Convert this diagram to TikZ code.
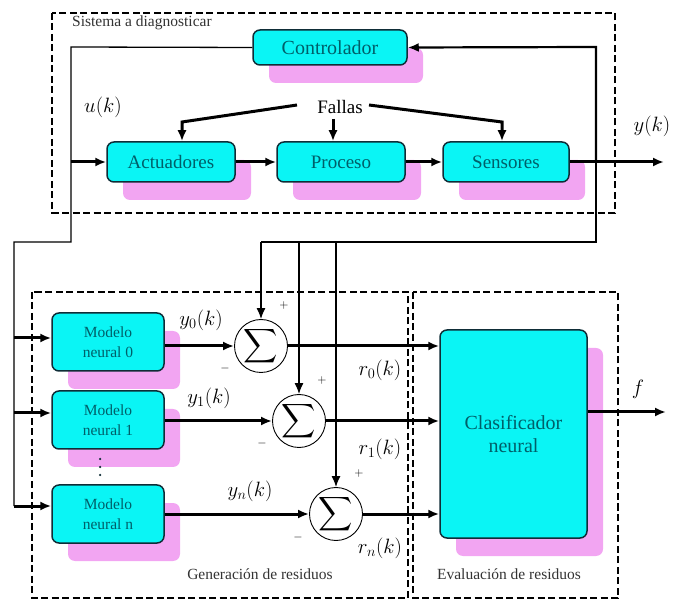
\documentclass[tikz,border=0pt]{standalone}
\usepackage{fontspec}
\usepackage{graphicx}
\setmainfont{Liberation Serif}
\usetikzlibrary{arrows.meta,shadows,calc}
\definecolor{boxfill}{RGB}{10,245,245}
\definecolor{boxline}{RGB}{15,45,55}
\definecolor{boxtext}{RGB}{0,95,105}
\definecolor{shpink}{RGB}{242,165,242}
\newcommand{\sumsym}{\resizebox{!}{25pt}{$\displaystyle\sum$}}
\begin{document}
\begin{tikzpicture}[x=1pt,y=-1pt,
  blk/.style={draw=boxline,fill=boxfill,line width=1.5pt,rounded corners=7pt,
    text=boxtext,inner sep=0pt,align=center,
    drop shadow={shadow xshift=16pt,shadow yshift=-18pt,fill=shpink,opacity=1}},
  bigblk/.style={blk,font=\fontsize{19}{20}\selectfont,minimum width=128pt,minimum height=40pt},
  modblk/.style={blk,font=\fontsize{15.5}{20}\selectfont,minimum width=112pt,minimum height=58pt},
  sumn/.style={draw,circle,line width=0.9pt,minimum size=53pt,inner sep=0pt,fill=white},
  dbox/.style={draw,dashed,dash pattern=on 7pt off 3.5pt,line width=1.7pt},
  thin/.style={line width=1.3pt},
  thick/.style={line width=3pt},
  arr/.style={-{Latex[length=11pt,width=9pt]}},
  lbl/.style={font=\fontsize{22}{23}\selectfont,inner sep=0pt},
  sml/.style={font=\fontsize{15.5}{17}\selectfont,inner sep=0pt,text=black!80},
  pm/.style={font=\fontsize{13}{14}\selectfont,inner sep=0pt}]
\useasboundingbox (0,0) rectangle (675,601);
% dashed frames
\draw[dbox] (52,13) rectangle (615,213);
\draw[dbox] (32,292) rectangle (408,598);
\draw[dbox] (413,292) rectangle (618,598);
\node[sml,anchor=west] (sis) at (72,23) {Sistema a diagnosticar};
\node[sml] (gen) at (260,574) {Generación de residuos};
\node[sml] (eva) at (509,574) {Evaluación de residuos};
% blocks
\node[blk,font=\fontsize{20}{21}\selectfont,minimum width=154pt,minimum height=35pt] (ctl) at (330,47.5) {Controlador};
\node[bigblk] (act) at (171,162) {Actuadores};
\node[bigblk] (pro) at (341,162) {Proceso};
\node[bigblk,minimum width=126pt] (sen) at (506,162) {Sensores};
\node[modblk] (m0) at (108,342) {Modelo\\neural 0};
\node[modblk] (m1) at (108,420) {Modelo\\neural 1};
\node[modblk] (mn) at (108,514) {Modelo\\neural n};
\node[blk,font=\fontsize{20}{23}\selectfont,minimum width=147pt,minimum height=208pt] (cla) at (513.5,434) {Clasificador\\neural};
% sums
\node[sumn] (s0) at (261,346) {\sumsym};
\node[sumn] (s1) at (299,421) {\sumsym};
\node[sumn] (sn) at (336,514) {\sumsym};
% dots
\node[circle,fill=boxline,inner sep=0pt,minimum size=2.5pt] (d1) at (100,459) {};
\node[circle,fill=boxline,inner sep=0pt,minimum size=2.5pt] (d2) at (100,467) {};
\node[circle,fill=boxline,inner sep=0pt,minimum size=2.5pt] (d3) at (100,475) {};
% coordinates
\coordinate (ul) at (71,47);
\coordinate (uin) at (71,162);
\coordinate (ulb) at (71,242);
\coordinate (bt) at (14,242);
\coordinate (b0) at (14,338);
\coordinate (b1) at (14,413);
\coordinate (bn) at (14,506);
\coordinate (fb) at (596,162);
\coordinate (fbt) at (596,47);
\coordinate (fbb) at (596,242);
\coordinate (t0) at (261,242);
\coordinate (t1) at (299,242);
\coordinate (tn) at (336,242);
\coordinate (yout) at (664,162);
\coordinate (fout) at (666,412);
\coordinate (fl0) at (297,105);
\coordinate (fl1) at (182,122);
\coordinate (fm0) at (333,119);
\coordinate (fr0) at (369,105);
\coordinate (fr1) at (502,122);
% labels
\node[lbl] (uk) at (103,107) {$u(k)$};
\node[lbl] (yk) at (652,126) {$y(k)$};
\node[font=\fontsize{19}{20}\selectfont,inner sep=1pt] (fal) at (340,107) {Fallas};
\node[lbl] (y0) at (201,320) {$y_0(k)$};
\node[lbl] (y1) at (209,398) {$y_1(k)$};
\node[lbl] (yn) at (250,491) {$y_n(k)$};
\node[lbl] (r0) at (380,370) {$r_0(k)$};
\node[lbl] (r1) at (380,449) {$r_1(k)$};
\node[lbl] (rn) at (380,548) {$r_n(k)$};
\node[lbl] (ff) at (638,389) {$f$};
\node[pm] (p0) at (284,306) {$+$};
\node[pm] (p1) at (322,381) {$+$};
\node[pm] (pn) at (359,474) {$+$};
\node[pm] (n0) at (225,369) {$-$};
\node[pm] (n1) at (262,444) {$-$};
\node[pm] (nn) at (298,537) {$-$};
% controller output path
\draw[thin] (ctl.west) -- (ul) -- (ulb) -- (bt) -- (bn);
\draw[thick,arr] (b0) -- (m0.west |- b0);
\draw[thick,arr] (b1) -- (m1.west |- b1);
\draw[thick,arr] (bn) -- (mn.west |- bn);
\draw[thick,arr] (uin) -- (act.west);
\draw[thick,arr] (act.east) -- (pro.west);
\draw[thick,arr] (pro.east) -- (sen.west);
\draw[thick,arr] (sen.east) -- (yout);
% feedback
\draw[line width=2.2pt,arr] (fb) -- (fbt) -- (ctl.east);
\draw[thin] (fb) -- (fbb) -- (t0);
\draw[thin,arr] (t0) -- (s0.north);
\draw[thin,arr] (t1) -- (s1.north);
\draw[thin,arr] (tn) -- (sn.north);
% faults
\draw[thick,arr] (fl0) -- (fl1) -- (act.north -| fl1);
\draw[thick,arr] (fm0) -- (pro.north -| fm0);
\draw[thick,arr] (fr0) -- (fr1) -- (sen.north -| fr1);
% models to sums
\draw[thick,arr] (m0.east |- s0) -- (s0.west);
\draw[thick,arr] (m1.east |- s1) -- (s1.west);
\draw[thick,arr] (mn.east |- sn) -- (sn.west);
% sums to classifier
\draw[thick,arr] (s0.east) -- (cla.west |- s0);
\draw[thick,arr] (s1.east) -- (cla.west |- s1);
\draw[thick,arr] (sn.east) -- (cla.west |- sn);
\draw[thick,arr] (cla.east |- fout) -- (fout);
\end{tikzpicture}
\end{document}
